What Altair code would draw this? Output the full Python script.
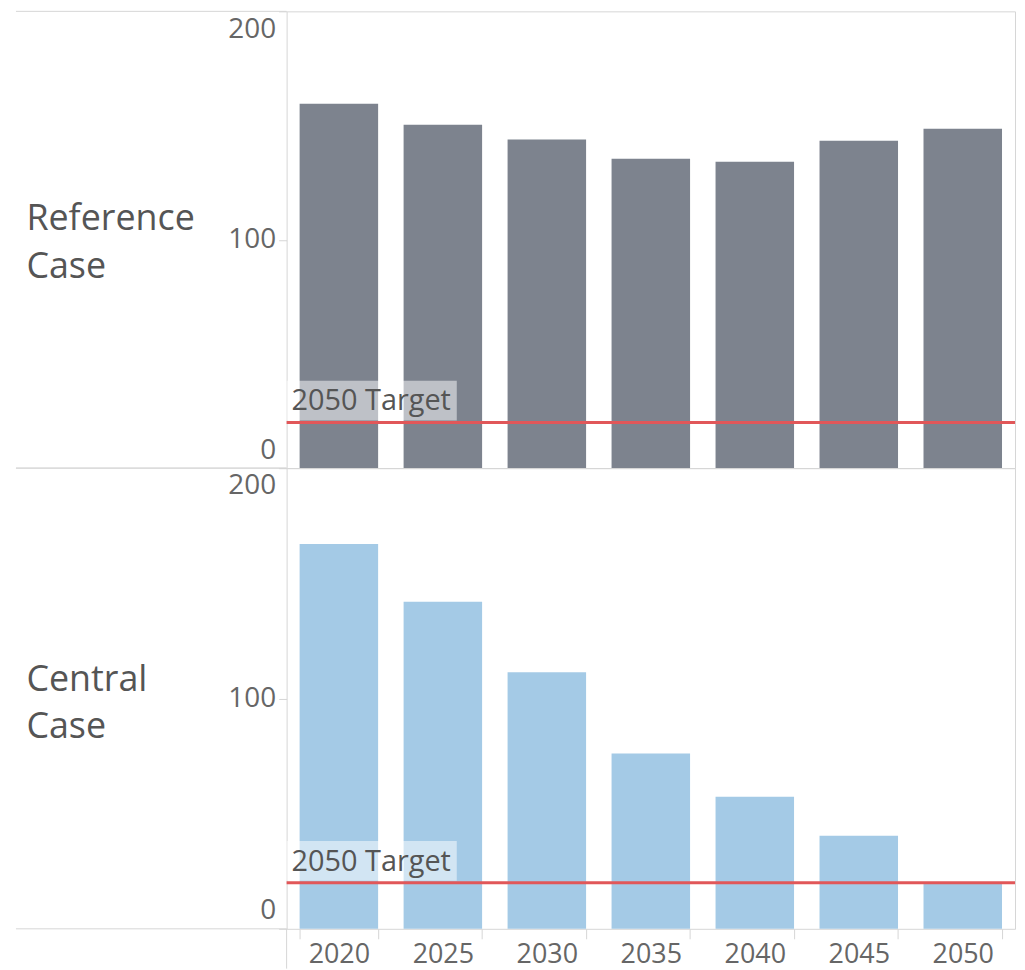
import altair as alt
import pandas as pd

years = ["2020", "2025", "2030", "2035", "2040", "2045", "2050"]
reference_case = [159.6, 150.4, 143.9, 135.5, 134.2, 143.3, 148.6]
central_case = [167.1, 142.0, 111.4, 76.1, 57.3, 40.4, 20.3]
target_value = 20
target_label = "2050 Target"
row_labels = [["Reference", "Case"], ["Central", "Case"]]
y_ticks = [0, 100, 200]

FONT = "Open Sans"
LINE = "#d6d6d6"
PLOT_W = 732


def panel(values, color, title_lines, height, show_x, title_y):
    df = pd.DataFrame({"Year": years, "Value": values})
    tdf = pd.DataFrame({"Value": [target_value], "label": [target_label]})
    one = pd.DataFrame({"a": [0]})

    xscale = alt.Scale(domain=years, paddingInner=0.245, paddingOuter=0.125)
    if show_x:
        xaxis = alt.Axis(
            title=None, labelAngle=0, labelFont=FONT, labelFontSize=27,
            labelColor="#666666", tickBand="extent", tickColor=LINE,
            tickSize=10, labelPadding=3, domain=False, grid=False,
        )
        xenc = alt.X("Year:O", scale=xscale, axis=xaxis)
    else:
        xenc = alt.X("Year:O", scale=xscale, axis=None)

    yscale = alt.Scale(domain=[0, 200], nice=False, zero=True)
    yaxis = alt.Axis(
        values=y_ticks, title=title_lines, titleAngle=0, titleAlign="left",
        titleBaseline="alphabetic", titleX=-262, titleY=title_y,
        titleFont=FONT, titleFontSize=36, titleFontWeight="normal",
        titleColor="#555555", titleLineHeight=48,
        labelFont=FONT, labelFontSize=28, labelColor="#666666",
        labelFlush=True, labelFlushOffset=-4, labelPadding=3,
        tickColor=LINE, tickSize=8, domain=False, grid=False,
    )

    bars = alt.Chart(df).mark_bar(color=color).encode(
        x=xenc, y=alt.Y("Value:Q", scale=yscale, axis=yaxis)
    )
    target = alt.Chart(tdf).mark_rule(color="#e15759", strokeWidth=3).encode(
        y=alt.Y("Value:Q")
    )
    label_bg = alt.Chart(tdf).mark_rect(
        fill="white", fillOpacity=0.5, yOffset=-2, y2Offset=-42
    ).encode(
        x=alt.value(0), x2=alt.value(171), y=alt.Y("Value:Q"), y2=alt.Y2("Value")
    )
    label = alt.Chart(tdf).mark_text(
        align="left", baseline="middle", dx=5, dy=-21, font=FONT,
        fontSize=29, color="#555555"
    ).encode(x=alt.value(0), y=alt.Y("Value:Q"), text="label:N")

    frame_top = alt.Chart(one).mark_rule(color=LINE, strokeWidth=1).encode(
        x=alt.value(-272), x2=alt.value(0), y=alt.value(0)
    )
    frame_bottom = alt.Chart(one).mark_rule(color=LINE, strokeWidth=1).encode(
        x=alt.value(-272), x2=alt.value(0), y=alt.value(height)
    )
    layers = [bars, target, label_bg, label, frame_top, frame_bottom]
    if show_x:
        vext = alt.Chart(one).mark_rule(color=LINE, strokeWidth=1).encode(
            x=alt.value(0), y=alt.value(height), y2=alt.value(height + 40)
        )
        layers.append(vext)
    return alt.layer(*layers).properties(width=PLOT_W, height=height)


top = panel(reference_case, "#7d838e", row_labels[0], 459, False, 219)
bottom = panel(central_case, "#a4cae6", row_labels[1], 463, True, 223)

chart = alt.vconcat(top, bottom, spacing=0, bounds="flush").configure_view(
    stroke=LINE, strokeWidth=1
).properties(
    padding={"left": 7, "top": 0, "right": 0, "bottom": 0}
)

chart.save("out.html", embed_options={"renderer": "svg", "actions": False})
